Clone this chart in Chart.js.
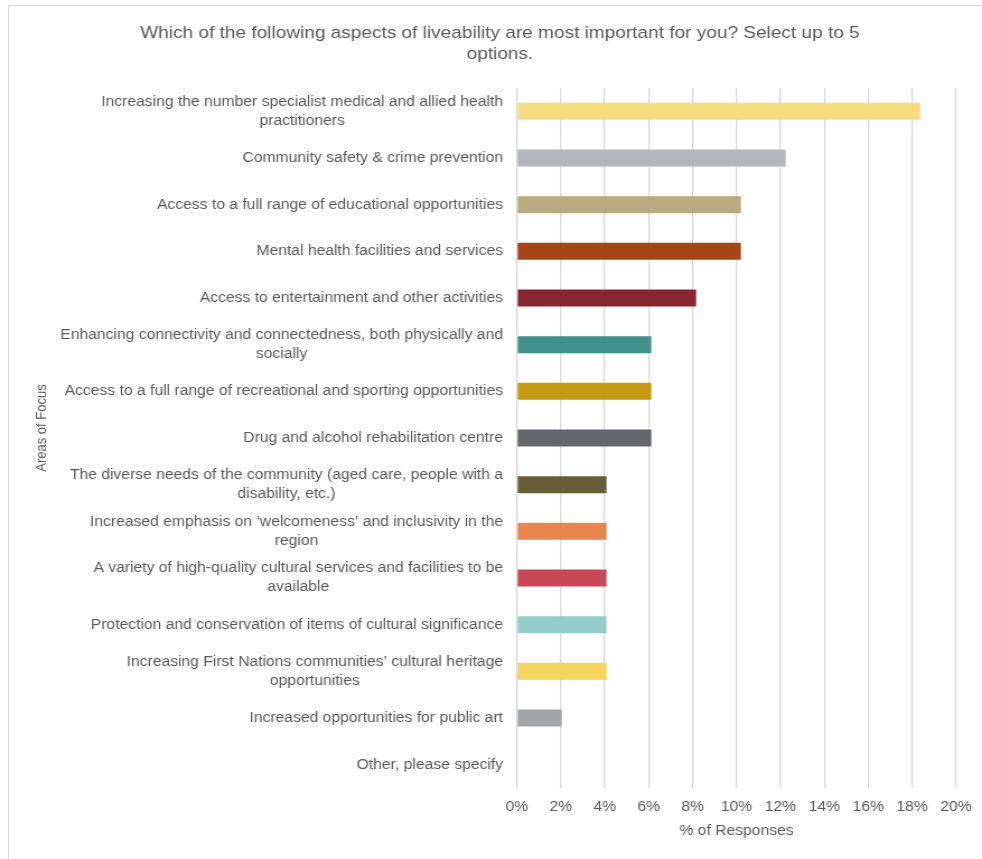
<!DOCTYPE html>
<html>
<head>
<meta charset="utf-8">
<script src="https://cdn.jsdelivr.net/npm/chart.js@4"></script>
<style>
  html, body { margin: 0; padding: 0; background: #fff; overflow: hidden; }
  #frame { position: absolute; left: 8px; top: 5px; width: 1100px; height: 1000px; border: 1px solid #d9d9d9; box-sizing: border-box; }
  #wrap { position: absolute; left: 0; top: 0; width: 877px; height: 859px; transform-origin: 0 0; transform: scaleX(1.11973); }
  #c { display: block; }
</style>
</head>
<body>
<div id="frame"></div>
<div id="wrap"><canvas id="c" width="877" height="859"></canvas></div>
<script>
const titleLines = ["Which of the following aspects of liveability are most important for you? Select up to 5", "options."];
const categories = [
  ["Increasing the number specialist medical and allied health", "practitioners"],
  "Community safety & crime prevention",
  "Access to a full range of educational opportunities",
  "Mental health facilities and services",
  "Access to entertainment and other activities",
  ["Enhancing connectivity and connectedness, both physically and", "socially"],
  "Access to a full range of recreational and sporting opportunities",
  "Drug and alcohol rehabilitation centre",
  ["The diverse needs of the community (aged care, people with a", "disability, etc.)"],
  ["Increased emphasis on \u2018welcomeness\u2019 and inclusivity in the", "region"],
  ["A variety of high-quality cultural services and facilities to be", "available"],
  "Protection and conservation of items of cultural significance",
  ["Increasing First Nations communities\u2019 cultural heritage", "opportunities"],
  "Increased opportunities for public art",
  "Other, please specify"
];
const values = [18.37, 12.24, 10.2, 10.2, 8.16, 6.12, 6.12, 6.12, 4.08, 4.08, 4.08, 4.08, 4.08, 2.04, 0];
const barColors = ["#F5DC80", "#B4B5B8", "#B8AB7F", "#A64617", "#862633", "#42918A", "#C39A12", "#63666A", "#665E39", "#E8864F", "#C94858", "#96CCC9", "#F3D45E", "#A2A4A6", "#999999"];
const xTicks = [0, 2, 4, 6, 8, 10, 12, 14, 16, 18, 20];
const xTitle = "% of Responses";
const yTitle = "Areas of Focus";

const FONT = "'Liberation Sans', Arial, sans-serif";
const TXT = "#595959";

// Category labels: block right-aligned to the axis, lines centred within the block (as in the source).
const categoryLabels = {
  id: 'categoryLabels',
  afterDraw(chart) {
    const ctx = chart.ctx;
    const ys = chart.scales.y;
    const right = ys.right - 12.5;
    const lh = 19;
    ctx.save();
    ctx.fillStyle = TXT;
    ctx.textBaseline = 'middle';
    ctx.textAlign = 'center';
    ctx.font = "14px " + FONT;
    chart.data.labels.forEach((lab, i) => {
      const lines = Array.isArray(lab) ? lab : [lab];
      const w = Math.max(...lines.map(l => ctx.measureText(l).width));
      const cx = right - w / 2;
      const cy = ys.getPixelForTick(i);
      lines.forEach((l, j) => ctx.fillText(l, cx, cy + (j - (lines.length - 1) / 2) * lh));
    });
    // y-axis title
    ctx.font = "13px " + FONT;
    ctx.translate(37.5, 428);
    ctx.rotate(-Math.PI / 2);
    ctx.fillText(yTitle, 0, 0);
    ctx.restore();
  }
};

new Chart(document.getElementById('c'), {
  type: 'bar',
  data: {
    labels: categories,
    datasets: [{
      data: values,
      backgroundColor: barColors,
      borderWidth: 0,
      categoryPercentage: 1,
      barPercentage: 0.365
    }]
  },
  plugins: [categoryLabels],
  options: {
    indexAxis: 'y',
    responsive: false,
    animation: false,
    layout: { padding: { left: 39.2, right: 23.2, top: 0, bottom: 0 } },
    plugins: {
      legend: { display: false },
      tooltip: { enabled: false },
      title: {
        display: true,
        text: titleLines,
        color: TXT,
        font: { family: FONT, size: 17, weight: 'normal', lineHeight: 1.25 },
        padding: { top: 22.4, bottom: 23.1 }
      }
    },
    scales: {
      x: {
        min: 0, max: 20,
        afterBuildTicks: (s) => { s.ticks = xTicks.map(v => ({ value: v })); },
        afterFit: (s) => { s.height = 71; },
        ticks: {
          color: TXT,
          font: { family: FONT, size: 14 },
          padding: 7,
          callback: (v) => v + '%'
        },
        grid: { color: '#d9d9d9', lineWidth: 1.3, drawTicks: true, tickLength: 4, tickColor: 'rgba(0,0,0,0)' },
        border: { display: false },
        title: {
          display: true, text: xTitle, color: TXT,
          font: { family: FONT, size: 14 },
          padding: { top: 0, bottom: 19 }
        }
      },
      y: {
        afterFit: (s) => { s.width = 422.5; },
        ticks: { display: false, autoSkip: false },
        grid: { display: false, drawTicks: false },
        border: { display: false },
        title: { display: false, text: yTitle }
      }
    }
  }
});
</script>
</body>
</html>
